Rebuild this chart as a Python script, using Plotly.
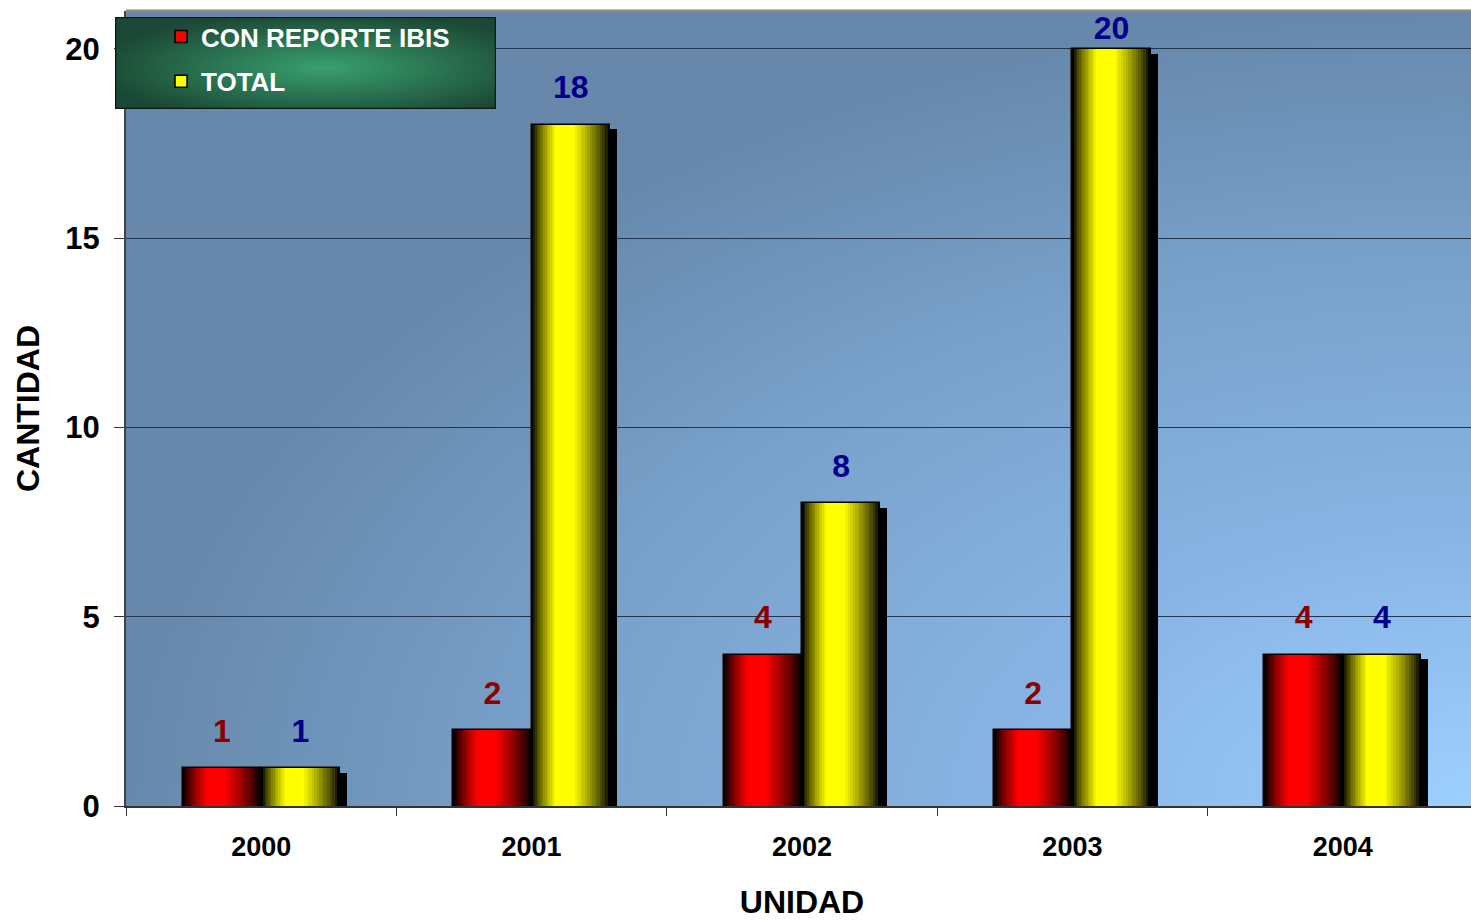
import base64
import plotly.graph_objects as go

# ---------------- data ----------------
categories = ["2000", "2001", "2002", "2003", "2004"]
con_reporte = [1, 2, 4, 2, 4]
total = [1, 18, 8, 20, 4]
series_names = ["CON REPORTE IBIS", "TOTAL"]
y_ticks = [0, 5, 10, 15, 20]

# ---------------- styling ----------------
FONT = "Arial, 'Liberation Sans', sans-serif"
BAR_W = 0.29
N_LAYERS = 14
SHADOW_DX = 0.026
SHADOW_DY = 0.13
Y_MAX = 21

red_rgb = (255, 0, 0)
yel_rgb = (255, 255, 0)


def mix(rgb, t):
    return "rgb(%d,%d,%d)" % tuple(int(round(c * t)) for c in rgb)


fig = go.Figure()

series = [
    (series_names[0], con_reporte, -BAR_W, red_rgb, "#8b0000"),
    (series_names[1], total, 0.0, yel_rgb, "#00008b"),
]

# shadows
for name, vals, off, rgb, tc in series:
    fig.add_trace(go.Bar(
        x=categories, y=vals, base=[-SHADOW_DY] * len(vals),
        offset=off + SHADOW_DX, width=BAR_W,
        marker=dict(color="black", line=dict(width=0)),
        showlegend=False, hoverinfo="skip",
    ))

# legend carrier traces (fully covered by gradient layers)
for i, (name, vals, off, rgb, tc) in enumerate(series):
    fig.add_trace(go.Bar(
        x=categories, y=vals, name=name, legendgroup=name,
        offset=off, width=BAR_W,
        marker=dict(color=mix(rgb, 1.0), line=dict(color="black", width=1.5)),
        showlegend=True,
    ))

# gradient layers
for name, vals, off, rgb, tc in series:
    for k in range(N_LAYERS + 1):
        t = k / N_LAYERS
        left = 0.30 * t
        right = 1 - 0.45 * t
        fig.add_trace(go.Bar(
            x=categories, y=vals, legendgroup=name,
            offset=off + left * BAR_W, width=(right - left) * BAR_W,
            marker=dict(color=mix(rgb, t ** 0.8),
                        line=dict(color="black", width=1 if k == 0 else 0)),
            showlegend=False, hoverinfo="skip",
        ))

# value labels on a hidden numeric overlay axis
for j, (name, vals, off, rgb, tc) in enumerate(series):
    xs = [i + off + BAR_W / 2 for i in range(len(categories))]
    sizes = [1 if v > Y_MAX - 1.5 else 28 for v in vals]
    fig.add_trace(go.Scatter(
        x=xs, y=vals, xaxis="x2", mode="markers+text",
        text=[str(v) for v in vals], textposition="top center",
        marker=dict(size=sizes, opacity=0),
        textfont=dict(family=FONT, size=32, color=tc, weight="bold"),
        showlegend=False, hoverinfo="skip", cliponaxis=False,
    ))

# ---------------- background images ----------------
FIG_W, FIG_H = 1478, 920
ML, MR, MT, MB = 126, 0, 11, 114
PW, PH = FIG_W - ML - MR, FIG_H - MT - MB

bg_svg = """<svg xmlns='http://www.w3.org/2000/svg' width='1352' height='795' viewBox='0 0 1352 795' preserveAspectRatio='none'>
<defs><radialGradient id='g' cx='1' cy='1' r='1' fx='1' fy='1'>
<stop offset='0' stop-color='#9dd0ff'/>
<stop offset='0.35' stop-color='#88b4e4'/>
<stop offset='0.7' stop-color='#78a0c9'/>
<stop offset='1' stop-color='#6788ab'/>
</radialGradient></defs>
<rect width='1352' height='795' fill='url(#g)'/></svg>"""
leg_svg = """<svg xmlns='http://www.w3.org/2000/svg' width='381' height='92' viewBox='0 0 381 92' preserveAspectRatio='none'>
<defs><radialGradient id='h' cx='0.55' cy='0.55' r='0.6'>
<stop offset='0' stop-color='#39a06f'/>
<stop offset='1' stop-color='#1b4834'/>
</radialGradient></defs>
<rect x='0.5' y='0.5' width='380' height='91' fill='url(#h)' stroke='#0a1a10' stroke-width='1.5'/></svg>"""


def uri(s):
    return "data:image/svg+xml;base64," + base64.b64encode(s.encode()).decode()


BOTTOM = MT + PH
fig.update_layout(
    images=[
        dict(source=uri(bg_svg), xref="paper", yref="paper", x=0, y=1,
             sizex=1, sizey=1, sizing="stretch", xanchor="left", yanchor="top",
             layer="below"),
        dict(source=uri(leg_svg), xref="paper", yref="paper",
             x=(115 - ML) / PW, y=(BOTTOM - 17) / PH,
             sizex=381 / PW, sizey=92 / PH, sizing="stretch",
             xanchor="left", yanchor="top", layer="above"),
    ],
    shapes=[dict(type="line", xref="paper", yref="paper", x0=0, x1=1, y0=1, y1=1,
                 line=dict(color="#8a8a8a", width=3))],
)

fig.update_layout(
    width=FIG_W, height=FIG_H,
    margin=dict(l=ML, r=MR, t=MT, b=MB),
    paper_bgcolor="white", plot_bgcolor="rgba(0,0,0,0)",
    barmode="overlay", bargap=0,
    font=dict(family=FONT, color="black"),
    legend=dict(
        x=(161 - ML) / PW, y=(BOTTOM - 13) / PH, xanchor="left", yanchor="top",
        bgcolor="rgba(0,0,0,0)", borderwidth=0,
        font=dict(family=FONT, size=26, color="white", weight="bold"),
        traceorder="grouped", tracegroupgap=8, itemclick=False,
    ),
    xaxis=dict(
        type="category", categoryorder="array", categoryarray=categories,
        range=[-0.5, 4.5], tickson="boundaries", ticks="outside", ticklen=8,
        tickcolor="#333", showgrid=False, showline=True, linecolor="#333",
        linewidth=1.5, ticklabelstandoff=16,
        tickfont=dict(family=FONT, size=27, weight="bold"),
        title=dict(text="UNIDAD", standoff=36,
                   font=dict(family=FONT, size=32, weight="bold")),
    ),
    xaxis2=dict(overlaying="x", range=[-0.5, 4.5], visible=False),
    yaxis=dict(
        range=[0, Y_MAX], tickvals=y_ticks, ticks="outside", ticklen=10,
        tickcolor="#333", showgrid=True, gridcolor="#1f3550", gridwidth=1,
        showline=True, linecolor="#444", linewidth=2, zeroline=False,
        ticklabelstandoff=8,
        tickfont=dict(family=FONT, size=31, weight="bold"),
        title=dict(text="CANTIDAD", standoff=16,
                   font=dict(family=FONT, size=32, weight="bold")),
    ),
)

fig.write_html(
    "out.html",
    config={"displayModeBar": False},
    post_script="document.body.style.margin='0';document.body.style.overflow='hidden';",
)
